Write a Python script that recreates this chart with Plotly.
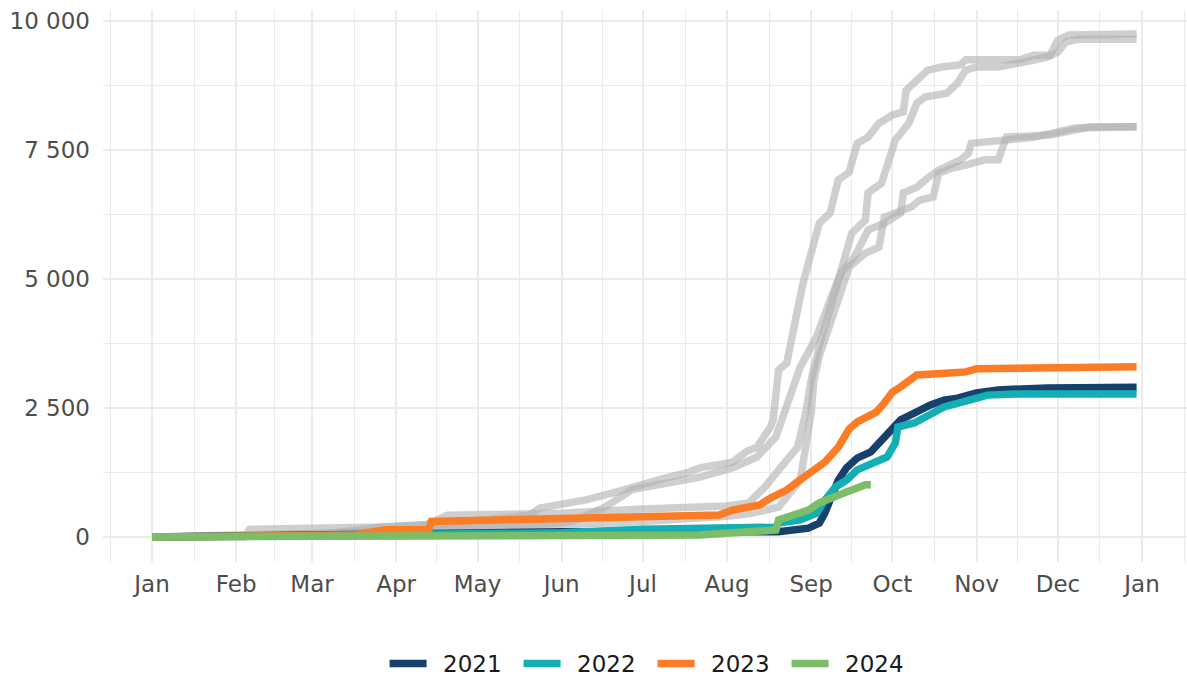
import plotly.graph_objects as go
import pandas as pd

YEAR = "2023"

# ---- grey background years (cumulative) ----
grey_a_dates = ["01-01","02-04","02-06","03-24","04-01","04-20","05-10","05-20","05-24","06-10","06-21","06-27","07-03","07-09","07-17","07-22","08-03","08-08","08-12","08-15","08-17","08-18","08-20","08-23","08-27","08-29","09-01","09-04","09-08","09-11","09-15","09-18","09-22","09-26","10-01","10-05","10-06","10-11","10-14","10-19","10-26","10-28","11-17","11-22","11-28","12-01","12-05","12-30"]
grey_a_vals = [0,0,150,170,200,260,360,420,560,720,870,970,1050,1140,1240,1340,1450,1650,1740,1940,2130,2270,3240,3370,4460,4920,5500,6080,6280,6920,7070,7630,7750,8020,8180,8240,8660,8920,9050,9110,9150,9250,9250,9340,9340,9630,9730,9750]

grey_b_dates = ["01-01","03-01","03-28","04-12","04-20","06-01","07-01","08-01","08-09","08-15","08-21","08-27","08-30","09-01","09-04","09-09","09-12","09-16","09-21","09-22","09-27","09-30","10-02","10-07","10-10","10-13","10-21","10-25","10-28","11-01","11-09","11-19","11-27","12-01","12-04","12-09","12-30"]
grey_b_vals = [0,30,200,240,420,460,540,600,660,970,1360,1740,2400,3040,3700,4590,5230,5890,6140,6670,6860,7360,7690,8020,8410,8530,8600,8800,9050,9110,9110,9210,9300,9400,9600,9650,9650]

grey_c_dates = ["01-01","03-01","04-15","05-15","06-05","06-12","06-17","06-27","07-10","07-22","08-03","08-12","08-19","08-21","08-23","08-28","09-01","09-03","09-08","09-12","09-17","09-22","09-28","10-04","10-05","10-10","10-14","10-18","10-26","10-29","10-30","11-04","11-22","11-29","12-07","12-30"]
grey_c_vals = [0,60,150,200,300,450,580,920,1060,1160,1340,1550,1940,2250,2520,3300,3680,3880,4590,5120,5430,5950,6080,6280,6670,6780,6960,7110,7310,7440,7630,7650,7750,7830,7930,7950]

grey_d_dates = ["01-01","02-20","04-01","05-01","06-01","07-01","08-01","08-10","08-20","08-28","09-01","09-02","09-04","09-11","09-15","09-21","09-26","09-28","10-04","10-08","10-11","10-16","10-18","10-23","10-28","11-04","11-09","11-12","11-28","12-04","12-13","12-30"]
grey_d_vals = [0,50,100,170,220,300,400,460,580,1100,2400,3040,3500,4590,5230,5500,5620,6200,6340,6400,6530,6590,7050,7150,7210,7310,7310,7750,7790,7850,7950,7950]

# ---- highlighted years ----
y2021_dates = ["01-01","03-01","04-15","06-01","08-01","08-20","08-31","09-04","09-06","09-09","09-11","09-14","09-18","09-23","09-27","10-01","10-04","10-09","10-15","10-20","10-25","11-01","11-09","11-27","12-30"]
y2021_vals = [0,40,80,100,100,100,170,270,460,850,1100,1340,1530,1650,1860,2070,2270,2400,2560,2650,2690,2790,2850,2890,2900]

y2022_dates = ["01-01","04-01","06-01","07-01","08-01","08-19","08-20","08-28","09-03","09-06","09-10","09-14","09-18","09-24","09-29","10-02","10-03","10-09","10-15","10-20","10-29","11-05","11-15","12-30"]
y2022_vals = [0,30,80,150,190,190,270,330,460,710,970,1100,1300,1430,1550,1820,2130,2210,2360,2520,2650,2750,2770,2770]

y2023_dates = ["01-01","03-17","03-28","04-13","04-14","06-15","07-29","08-03","08-13","08-17","08-23","08-27","09-03","09-06","09-11","09-15","09-18","09-25","09-28","10-01","10-04","10-10","10-22","10-28","11-01","11-27","12-30"]
y2023_vals = [0,40,140,140,300,370,425,520,620,755,910,1070,1340,1450,1740,2090,2230,2420,2600,2810,2910,3140,3180,3200,3260,3290,3300]

y2024_dates = ["01-01","07-01","07-22","08-09","08-19","08-20","08-26","08-31","09-04","09-09","09-14","09-18","09-21","09-23"]
y2024_vals = [0,20,40,100,135,330,430,520,660,780,870,950,1010,1010]

months = ["Jan","Feb","Mar","Apr","May","Jun","Jul","Aug","Sep","Oct","Nov","Dec","Jan"]
y_ticks = [0, 2500, 5000, 7500, 10000]
y_labels = ["0", "2 500", "5 000", "7 500", "10 000"]

def d(lst):
    return [f"{YEAR}-{m}" for m in lst]

fig = go.Figure()
grey = "rgba(175,175,175,0.6)"
for dts, vals in [(grey_a_dates, grey_a_vals), (grey_b_dates, grey_b_vals),
                  (grey_c_dates, grey_c_vals), (grey_d_dates, grey_d_vals)]:
    fig.add_trace(go.Scatter(x=d(dts), y=vals, mode="lines",
                             line=dict(color=grey, width=7.5), showlegend=False,
                             hoverinfo="skip"))

series = [("2021", y2021_dates, y2021_vals, "#17406D"),
          ("2022", y2022_dates, y2022_vals, "#14AFB5"),
          ("2023", y2023_dates, y2023_vals, "#FB7C24"),
          ("2024", y2024_dates, y2024_vals, "#7BBD69")]
for name, dts, vals, col in series:
    fig.add_trace(go.Scatter(x=d(dts), y=vals, mode="lines", name="\u2002" + name,
                             line=dict(color=col, width=7.5)))

major = pd.date_range("2023-01-01", "2024-01-01", freq="MS")
ext = pd.date_range("2022-12-01", "2024-02-01", freq="MS")
minor = [ext[i] + (ext[i + 1] - ext[i]) / 2 for i in range(len(ext) - 1)]

fig.update_layout(
    width=1187, height=677,
    margin=dict(l=103, r=0, t=10, b=115),
    plot_bgcolor="white", paper_bgcolor="white",
    font=dict(family="DejaVu Sans", size=23, color="#4d4d4d"),
    xaxis=dict(
        type="date",
        range=["2022-12-13 22:00", "2024-01-17 14:00"],
        tickmode="array", tickvals=list(major), ticktext=months,
        showgrid=True, gridcolor="#ebebeb", gridwidth=2,
        zeroline=False, showline=False, ticks="",
        ticklabelstandoff=6,
        minor=dict(tickvals=minor, showgrid=True, gridcolor="#ebebeb", gridwidth=1.2),
        tickfont=dict(size=23, color="#4d4d4d"),
    ),
    yaxis=dict(
        range=[-485, 10215],
        tickmode="array", tickvals=y_ticks, ticktext=y_labels,
        showgrid=True, gridcolor="#ebebeb", gridwidth=2,
        zeroline=False, showline=False, ticks="",
        ticklabelstandoff=12,
        minor=dict(tickvals=[1250, 3750, 6250, 8750], showgrid=True,
                   gridcolor="#ebebeb", gridwidth=1.2),
        tickfont=dict(size=23, color="#4d4d4d"),
    ),
    legend=dict(orientation="h", x=0.507, xanchor="center",
                yref="container", y=0.02, yanchor="middle",
                font=dict(size=23, color="#1a1a1a"),
                itemwidth=37, entrywidth=82, entrywidthmode="pixels",
                traceorder="normal"),
    showlegend=True,
)

fig.write_html("out.html", config={"displayModeBar": False},
               post_script="document.body.style.margin='0px';")
